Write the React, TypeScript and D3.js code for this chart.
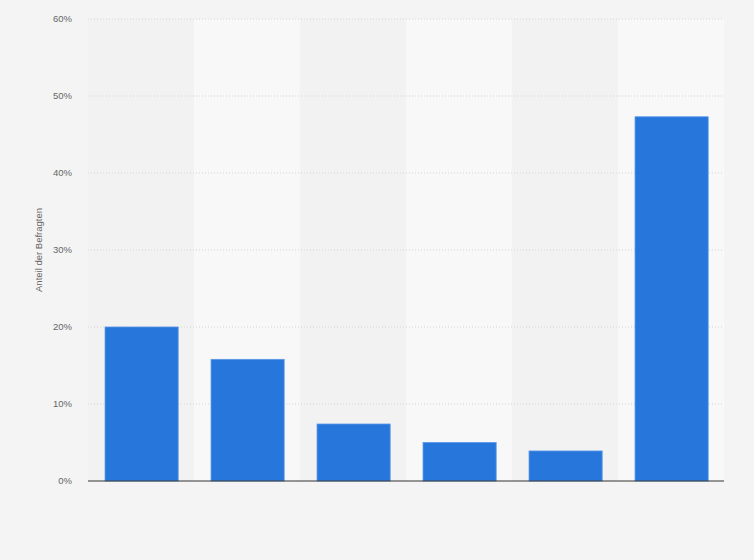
import React from "react";
import * as d3 from "d3";

const categories = ["A", "B", "C", "D", "E", "F"];
const values = [20, 15.8, 7.4, 5.0, 3.9, 47.3];
const yTicks = [0, 10, 20, 30, 40, 50, 60];
const yTitle = "Anteil der Befragten";

export default function App() {
  const W = 754, H = 560;
  const left = 88, right = 724, top = 19, bottom = 481;
  const x = d3.scaleBand<string>().domain(categories).range([left + 0.6, right + 0.6]).paddingInner(0.31).paddingOuter(0.155);
  const bands = d3.scaleBand<string>().domain(categories).range([left, right]);
  const y = d3.scaleLinear().domain([0, 60]).range([bottom, top]);
  return (
    <svg width={W} height={H} style={{ position: "absolute", left: 0, top: 0, fontFamily: "Arial, 'Liberation Sans', sans-serif" }}>
      <rect x={0} y={0} width={W} height={H} fill="#f4f4f4" />
      {categories.map((c, i) => (
        <rect key={c} x={bands(c)} y={top} width={bands.bandwidth()} height={bottom - top} fill={i % 2 === 0 ? "#f2f2f2" : "#f8f8f8"} />
      ))}
      {yTicks.map((t) => (
        <g key={t}>
          {t > 0 && <line x1={left} x2={right} y1={y(t)} y2={y(t)} stroke="#d4d4d4" strokeWidth={1} strokeDasharray="1,2" />}
          <text x={72} y={y(t)} dy="0.35em" textAnchor="end" fontSize={9.5} fill="#666">{t}%</text>
        </g>
      ))}
      {categories.map((c, i) => (
        <rect key={c} x={x(c)} y={y(values[i])} width={x.bandwidth()} height={bottom - y(values[i])} fill="#2776db" stroke="#5a97e6" strokeWidth={0.8} />
      ))}
      <line x1={left} x2={right} y1={bottom} y2={bottom} stroke="#333" strokeWidth={1.2} />
      <text transform={`translate(42,${(top + bottom) / 2}) rotate(-90)`} textAnchor="middle" fontSize={9.5} fill="#666">{yTitle}</text>
    </svg>
  );
}
